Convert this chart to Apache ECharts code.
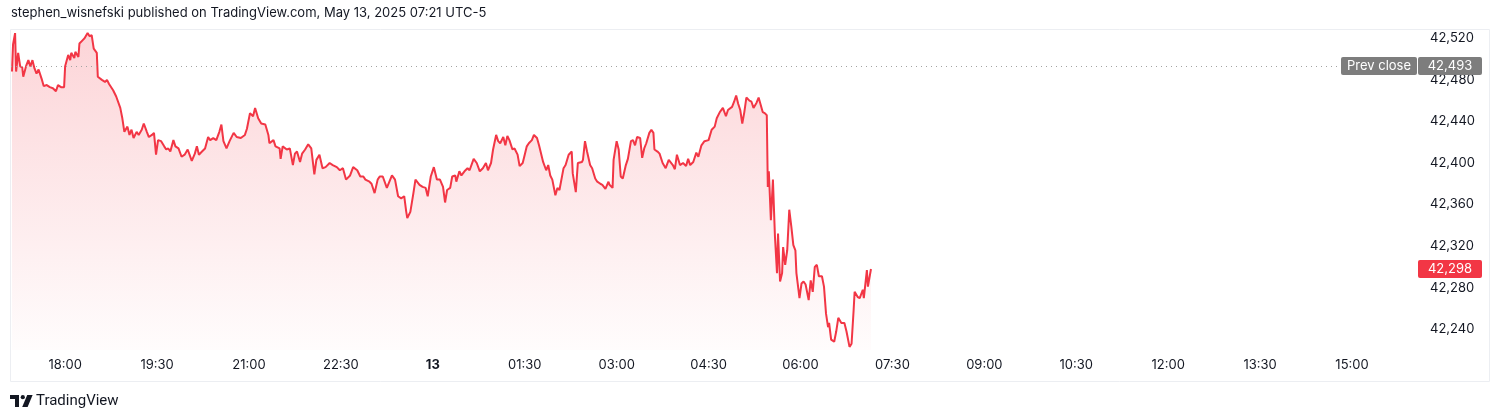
<!DOCTYPE html>
<html>
<head>
<meta charset="utf-8">
<script src="https://cdn.jsdelivr.net/npm/echarts@6/dist/echarts.min.js"></script>
<style>
html,body{margin:0;padding:0;background:#fff;}
#c{width:1500px;height:420px;}
</style>
</head>
<body>
<div id="c"></div>
<script>
// minutes from 18:00 (May 12, UTC-5)
const times = [-52,-51,-49,-48,-46,-44,-42,-41,-38,-36,-34,-32,-30,-28,-26,-23,-21,-18,-15,-12,-9,-7,-4,-1,
0,3,5,6,9,10,13,14,17,19,22,24,26,28,31,32,36,39,41,43,47,50,54,56,58,61,63,65,67,70,72,75,77,80,82,85,87,89,
91,94,97,99,101,103,106,108,111,114,117,120,124,127,129,131,134,137,140,142,145,148,151,153,155,158,161,165,168,
172,176,178,181,184,186,189,192,196,199,200,204,206,210,211,213,217,220,223,225,227,230,232,235,238,241,244,246,
249,252,255,259,262,266,269,272,275,279,282,286,289,292,294,298,300,303,306,308,311,315,320,323,326,329,332,334,
335,338,341,343,347,350,353,355,358,361,364,367,370,372,374,377,379,382,383,386,388,391,394,396,400,403,406,409,
412,414,417,419,422,424,426,429,431,433,435,438,440,443,445,448,450,452,454,457,459,462,464,468,471,473,475,477,
480,482,484,488,490,493,496,497,500,502,506,507,509,511,514,516,519,521,524,526,529,532,533,536,537,540,542,544,
546,549,551,554,556,558,560,563,565,567,569,572,574,576,577,580,582,585,588,591,595,597,599,602,605,608,610,612,
615,618,620,623,626,630,633,636,638,641,644,647,649,653,655,657,659,661,663,665,667,670,672,674,677,679,681,683,
685,687,688,689,691,693,695,697,698,700,702,703,705,707,709,711,713,715,716,718,719,721,723,725,728,730,732,734,
736,738,741,743,745,747,748,750,753,755,757,760,763,765,768,770,772,773,776,778,781,782,785,786,789];
const prices = [42488,42514,42525,42488,42506,42493,42492,42483,42494,42499,42493,42499,42491,42486,42490,42481,42474,42475,42473,42472,42469,42475,42473,42473,
42493,42504,42499,42506,42501,42507,42502,42515,42518,42520,42525,42522,42523,42510,42506,42483,42480,42478,42480,42476,42470,42464,42453,42443,42430,42435,42427,42432,42424,42430,42427,42432,42438,42430,42425,42427,42429,42408,
42422,42421,42416,42413,42414,42411,42422,42416,42414,42406,42408,42413,42402,42409,42416,42408,42411,42414,42425,42422,42424,42422,42430,42437,42421,42414,42421,42429,42425,
42424,42427,42433,42448,42445,42453,42443,42438,42437,42427,42419,42422,42416,42414,42404,42416,42413,42414,42398,42409,42411,42401,42409,42413,42418,42414,42389,42403,
42408,42395,42396,42400,42398,42396,42393,42395,42384,42388,42396,42393,42387,42387,42384,42382,42380,42371,42384,42387,42387,42376,42388,42384,42368,42366,42368,42353,
42347,42353,42371,42384,42379,42377,42376,42368,42387,42396,42384,42384,42377,42362,42374,42376,42387,42388,42382,42392,42388,42392,42395,42393,42404,42400,42392,42395,
42400,42393,42400,42413,42427,42421,42419,42425,42417,42426,42422,42413,42414,42408,42397,42400,42408,42416,42419,42422,42427,42424,42417,42401,42393,42398,42388,42384,
42369,42376,42374,42395,42398,42408,42411,42390,42372,42400,42401,42403,42421,42411,42398,42395,42385,42382,42380,42379,42375,42382,42379,42376,42403,42421,42413,42387,
42385,42398,42404,42421,42422,42417,42425,42424,42405,42414,42419,42429,42432,42429,42413,42411,42409,42400,42395,42403,42398,42394,42408,42398,42400,42397,42404,42398,
42401,42410,42406,42417,42421,42422,42432,42435,42443,42449,42453,42445,42451,42454,42459,42465,42457,42451,42438,42449,42463,42460,42459,42453,42458,42463,42456,42449,
42448,42446,42377,42392,42345,42384,42329,42294,42332,42286,42294,42319,42302,42316,42355,42339,42321,42316,42294,42278,42270,42284,42286,42283,42268,42287,42276,42300,
42302,42291,42291,42281,42255,42242,42246,42230,42228,42238,42251,42246,42246,42238,42223,42226,42258,42276,42271,42270,42278,42270,42297,42281,42298];

const xTickValues = [0,90,180,270,360,450,540,630,720,810,900,990,1080,1170,1260];
const xTickLabels = ['18:00','19:30','21:00','22:30','13','01:30','03:00','04:30','06:00','07:30','09:00','10:30','12:00','13:30','15:00'];
const yTickValues = [42240,42280,42320,42360,42400,42440,42480,42520];
const prevClose = 42493;
const lastPrice = 42298;
const headerText = 'stephen_wisnefski published on TradingView.com, May 13, 2025 07:21 UTC-5';

const FONT = 'Inter, "Liberation Sans", Arial, sans-serif';
const LOGOFONT = 'Roboto, "Liberation Sans", Arial, sans-serif';
const TXT = '#131722';
const RED = '#F23645';
const GRAY = '#7d7d7d';

const data = times.map((t, i) => [t, prices[i]]);
const chart = echarts.init(document.getElementById('c'), null, {renderer: 'canvas'});

const fmt = v => v.toLocaleString('en-US');

chart.setOption({
  animation: false,
  backgroundColor: '#ffffff',
  textStyle: {fontFamily: FONT},
  grid: {left: 11, right: 82, top: 30, bottom: 70, containLabel: false},
  xAxis: {
    type: 'value',
    min: -53,
    max: 1324.6,
    axisLine: {show: false},
    axisTick: {show: false},
    splitLine: {show: false},
    axisLabel: {
      customValues: xTickValues,
      margin: 9,
      fontSize: 13,
      color: TXT,
      fontFamily: FONT,
      formatter: v => {
        const i = xTickValues.indexOf(v);
        const s = i >= 0 ? xTickLabels[i] : '';
        return s === '13' ? '{b|13}' : s;
      },
      rich: {b: {fontWeight: 'bold', fontSize: 13, color: TXT, fontFamily: FONT}}
    }
  },
  yAxis: {
    type: 'value',
    position: 'right',
    min: 42220,
    max: 42528,
    axisLine: {show: false},
    axisTick: {show: false},
    splitLine: {show: false},
    axisLabel: {
      customValues: yTickValues,
      margin: 12,
      fontSize: 13,
      color: TXT,
      fontFamily: FONT,
      formatter: v => fmt(v)
    }
  },
  series: [{
    type: 'line',
    data: data,
    showSymbol: false,
    symbol: 'none',
    lineStyle: {color: RED, width: 2},
    itemStyle: {color: RED},
    areaStyle: {
      origin: 'start',
      color: new echarts.graphic.LinearGradient(0, 0, 0, 1, [
        {offset: 0, color: 'rgba(242,54,69,0.30)'},
        {offset: 1, color: 'rgba(242,54,69,0.02)'}
      ])
    },
    markLine: {
      silent: true,
      symbol: 'none',
      label: {show: false},
      lineStyle: {color: '#a3a3a3', type: [1, 4], width: 1},
      data: [{yAxis: prevClose}]
    },
    z: 3
  }]
});

const yPrev = chart.convertToPixel({yAxisIndex: 0}, prevClose);
const yLast = chart.convertToPixel({yAxisIndex: 0}, lastPrice);
const gridRight = 1418;
const boxH = 18;

function box(x, y, w, fill, text) {
  return [{
    type: 'rect', z: 100,
    shape: {x: x, y: Math.round(y - boxH / 2), width: w, height: boxH, r: 2},
    style: {fill: fill}
  }, {
    type: 'text', z: 101,
    style: {
      x: x + w / 2, y: Math.round(y) + 0.5, text: text, fill: '#ffffff',
      font: '13px ' + FONT, align: 'center', verticalAlign: 'middle'
    }
  }];
}

const g = [];
// frame
g.push({type: 'rect', z: 0, shape: {x: 10.5, y: 29.5, width: 1479, height: 352}, style: {fill: null, stroke: '#eceef2', lineWidth: 1}});
// header
g.push({type: 'text', z: 10, style: {x: 11, y: 13, text: headerText, fill: TXT, font: '13px ' + FONT, verticalAlign: 'middle'}});
// prev close labels
g.push(...box(1341, yPrev, 76, GRAY, 'Prev close'));
g.push(...box(gridRight, yPrev, 64, GRAY, fmt(prevClose)));
// last price label
g.push(...box(gridRight, yLast, 64, RED, fmt(lastPrice)));
// TradingView logo
g.push({type: 'polygon', z: 10, shape: {points: [[10,395],[19,395],[19,407],[15,407],[15,399],[10,399]]}, style: {fill: TXT}});
g.push({type: 'circle', z: 10, shape: {cx: 22.8, cy: 397.2, r: 2.1}, style: {fill: TXT}});
g.push({type: 'polygon', z: 10, shape: {points: [[27.2,395],[32.6,395],[27.6,407],[22.2,407]]}, style: {fill: TXT}});
g.push({type: 'text', z: 10, style: {x: 36, y: 401, text: 'TradingView', fill: TXT, font: '15px ' + LOGOFONT, verticalAlign: 'middle'}});

chart.setOption({graphic: g});
</script>
</body>
</html>
